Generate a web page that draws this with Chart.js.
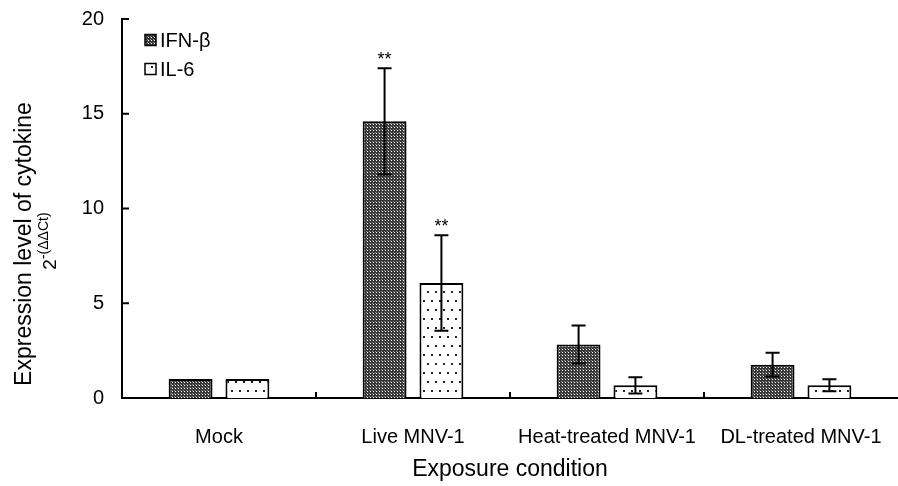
<!DOCTYPE html>
<html>
<head>
<meta charset="utf-8">
<script src="https://cdn.jsdelivr.net/npm/chart.js@4.4.0/dist/chart.umd.min.js"></script>
<style>
html, body { margin: 0; padding: 0; background: #fff; }
</style>
</head>
<body>
<canvas id="grafico" width="898" height="486"></canvas>
<script>
// datos
const categorias = ['Mock', 'Live MNV-1', 'Heat-treated MNV-1', 'DL-treated MNV-1'];
const ifnB = [1, 14.6, 2.82, 1.76];
const ifnBErr = [0, 2.8, 1.0, 0.63];
const il6 = [1, 6.07, 0.67, 0.67];
const il6Err = [0, 2.52, 0.43, 0.32];
const ifnBSig = ['', '**', '', ''];
const il6Sig = ['', '**', '', ''];
const yTicks = [0, 5, 10, 15, 20];

const FUENTE = "'Liberation Sans', Arial, sans-serif";

// tramas de relleno
function tramaOscura() {
    const c = document.createElement('canvas');
    c.width = 3; c.height = 3;
    const g = c.getContext('2d');
    g.fillStyle = '#383838';
    g.fillRect(0, 0, 3, 3);
    g.fillStyle = '#ffffff';
    g.fillRect(1, 1, 1, 1);
    g.fillStyle = '#8a8a8a';
    g.fillRect(0, 0, 1, 1);
    return g.createPattern(c, 'repeat');
}

function tramaPuntos() {
    const c = document.createElement('canvas');
    c.width = 16; c.height = 18;
    const g = c.getContext('2d');
    g.fillStyle = '#ffffff';
    g.fillRect(0, 0, 16, 18);
    g.fillStyle = '#222222';
    g.fillRect(3, 3, 2, 2);
    g.fillRect(11, 3, 2, 2);
    g.fillRect(7, 12, 2, 2);
    g.fillRect(15, 12, 1, 2);
    g.fillRect(0, 12, 1, 2);
    return g.createPattern(c, 'repeat');
}

const errores = [ifnBErr, il6Err];
const marcas = [ifnBSig, il6Sig];

// barras de error, marcas internas, leyenda y titulos
const extras = {
    id: 'extras',
    afterDatasetsDraw(chart) {
        const ctx = chart.ctx;
        const y = chart.scales.y;
        ctx.save();
        ctx.strokeStyle = '#000';
        ctx.fillStyle = '#000';
        ctx.lineWidth = 2;
        chart.data.datasets.forEach((ds, i) => {
            const meta = chart.getDatasetMeta(i);
            meta.data.forEach((bar, j) => {
                const v = ds.data[j];
                const e = errores[i][j];
                const yTop = y.getPixelForValue(v + e);
                if (e > 0) {
                    const yBot = y.getPixelForValue(v - e);
                    ctx.beginPath();
                    ctx.moveTo(bar.x, yTop);
                    ctx.lineTo(bar.x, yBot);
                    ctx.moveTo(bar.x - 7, yTop);
                    ctx.lineTo(bar.x + 7, yTop);
                    ctx.moveTo(bar.x - 7, yBot);
                    ctx.lineTo(bar.x + 7, yBot);
                    ctx.stroke();
                }
                if (marcas[i][j]) {
                    ctx.font = '18px ' + FUENTE;
                    ctx.textAlign = 'center';
                    ctx.textBaseline = 'bottom';
                    ctx.fillText(marcas[i][j], bar.x, yTop + 1);
                }
            });
        });
        ctx.restore();
    },
    afterDraw(chart) {
        const ctx = chart.ctx;
        const area = chart.chartArea;
        const x = chart.scales.x;
        const y = chart.scales.y;
        ctx.save();
        ctx.strokeStyle = '#000';
        ctx.fillStyle = '#000';
        ctx.lineWidth = 2;

        // marcas del eje y hacia dentro
        yTicks.forEach(t => {
            const p = y.getPixelForValue(t);
            ctx.beginPath();
            ctx.moveTo(area.left, p);
            ctx.lineTo(area.left + 7, p);
            ctx.stroke();
        });
        // marcas del eje x entre categorias
        for (let i = 0; i < categorias.length - 1; i++) {
            const p = (x.getPixelForValue(i) + x.getPixelForValue(i + 1)) / 2;
            ctx.beginPath();
            ctx.moveTo(p, area.bottom);
            ctx.lineTo(p, area.bottom - 6);
            ctx.stroke();
        }

        // leyenda
        const pats = [chart.data.datasets[0].backgroundColor, chart.data.datasets[1].backgroundColor];
        const nombres = [chart.data.datasets[0].label, chart.data.datasets[1].label];
        ctx.font = '20px ' + FUENTE;
        ctx.textAlign = 'left';
        ctx.textBaseline = 'middle';
        ctx.lineWidth = 1.5;
        [40, 69].forEach((cy, i) => {
            ctx.fillStyle = pats[i];
            ctx.fillRect(145, cy - 5.5, 11, 11);
            ctx.strokeRect(145, cy - 5.5, 11, 11);
            ctx.fillStyle = '#000';
            ctx.fillText(nombres[i], 160, cy + 1);
        });

        // titulo eje x
        ctx.font = '23px ' + FUENTE;
        ctx.textAlign = 'center';
        ctx.textBaseline = 'middle';
        ctx.fillText('Exposure condition', (area.left + area.right) / 2, 470);

        // titulo eje y
        ctx.save();
        ctx.translate(31, 244);
        ctx.rotate(-Math.PI / 2);
        ctx.textBaseline = 'alphabetic';
        ctx.font = '23px ' + FUENTE;
        ctx.fillText('Expression level of cytokine', 0, 0);
        ctx.restore();

        ctx.save();
        ctx.translate(56, 241);
        ctx.rotate(-Math.PI / 2);
        ctx.textBaseline = 'alphabetic';
        ctx.textAlign = 'left';
        ctx.font = '19px ' + FUENTE;
        const w1 = ctx.measureText('2').width;
        ctx.font = '14px ' + FUENTE;
        const w2 = ctx.measureText('-(ΔΔCt)').width;
        const x0 = -(w1 + w2) / 2;
        ctx.font = '19px ' + FUENTE;
        ctx.fillText('2', x0, 0);
        ctx.font = '14px ' + FUENTE;
        ctx.fillText('-(ΔΔCt)', x0 + w1, -8);
        ctx.restore();

        ctx.restore();
    }
};

window.onload = function () {
    const ctx = document.getElementById('grafico');
    new Chart(ctx, {
        type: 'bar',
        data: {
            labels: categorias,
            datasets: [
                {
                    label: 'IFN-β',
                    data: ifnB,
                    backgroundColor: tramaOscura(),
                    borderColor: '#000',
                    borderWidth: 2,
                    borderSkipped: 'bottom'
                },
                {
                    label: 'IL-6',
                    data: il6,
                    backgroundColor: tramaPuntos(),
                    borderColor: '#000',
                    borderWidth: 2,
                    borderSkipped: 'bottom'
                }
            ]
        },
        options: {
            responsive: false,
            devicePixelRatio: 1,
            animation: false,
            categoryPercentage: 0.586,
            barPercentage: 0.772,
            layout: { padding: { top: 19, right: 0, bottom: 0, left: 0 } },
            plugins: {
                legend: { display: false },
                tooltip: { enabled: false }
            },
            scales: {
                x: {
                    grid: { display: false, drawTicks: false },
                    border: { display: true, color: '#000', width: 2 },
                    ticks: {
                        color: '#000',
                        font: { size: 20, family: FUENTE },
                        padding: 27,
                        maxRotation: 0,
                        autoSkip: false
                    },
                    afterFit(scale) {
                        scale.height = 88;
                        scale.paddingLeft = 0;
                        scale.paddingRight = 0;
                    }
                },
                y: {
                    min: 0,
                    max: 20,
                    grid: { display: false, drawTicks: false },
                    border: { display: true, color: '#000', width: 2 },
                    afterBuildTicks(scale) {
                        scale.ticks = yTicks.map(v => ({ value: v }));
                    },
                    ticks: {
                        color: '#000',
                        font: { size: 20, family: FUENTE },
                        padding: 18
                    },
                    afterFit(scale) {
                        scale.width = 122;
                        scale.paddingTop = 0;
                        scale.paddingBottom = 0;
                    }
                }
            }
        },
        plugins: [extras]
    });
};
</script>
</body>
</html>
